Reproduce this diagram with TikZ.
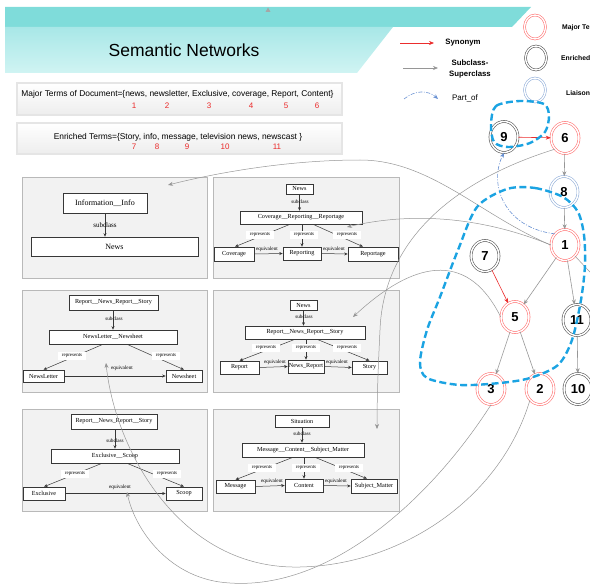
\documentclass[tikz,border=0pt]{standalone}
\usepackage{fontspec}
\setmainfont{Liberation Sans}
\newfontfamily\panelfont{Liberation Serif}
\usetikzlibrary{arrows.meta,shapes.geometric}
\definecolor{tealtop}{RGB}{127,220,218}
\definecolor{tealmid}{RGB}{168,231,231}
\definecolor{teallow}{RGB}{208,244,243}
\definecolor{nodered}{RGB}{255,105,105}
\definecolor{nodeblack}{RGB}{75,75,75}
\definecolor{nodeblue}{RGB}{140,170,215}
\definecolor{edgegray}{RGB}{150,150,150}
\definecolor{synred}{RGB}{235,45,45}
\definecolor{loopblue}{RGB}{27,163,226}
\definecolor{partblue}{RGB}{105,145,210}
\definecolor{panelfill}{RGB}{242,242,242}
\definecolor{panelline}{RGB}{185,185,185}
\definecolor{boxline}{RGB}{55,55,55}
\definecolor{numred}{RGB}{235,40,40}
\begin{document}
\begin{tikzpicture}[x=1pt,y=-1pt,
  gnode/.style={ellipse,draw,double,double distance=1.5pt,line width=0.55pt,minimum width=28pt,minimum height=31pt,inner sep=0pt,fill=white,font=\fontsize{13}{13}\selectfont\bfseries},
  rednode/.style={gnode,draw=nodered},
  blacknode/.style={gnode,draw=nodeblack},
  bluenode/.style={gnode,draw=nodeblue},
  legcirc/.style={ellipse,draw,double,double distance=1.4pt,line width=0.55pt,minimum width=21pt,minimum height=24pt,inner sep=0pt},
  arrowtip/.style={-{Stealth[length=5pt,width=4pt]}},
  gedge/.style={draw=edgegray,line width=0.6pt,arrowtip},
  redge/.style={draw=synred,line width=0.6pt,arrowtip},
  longc/.style={draw=edgegray,line width=0.5pt,arrowtip},
  partof/.style={draw=partblue,line width=0.6pt,dash pattern=on 4pt off 1.5pt on 1pt off 1.5pt,arrowtip},
  loopd/.style={draw=loopblue,line width=2.4pt,dash pattern=on 7pt off 3.5pt},
  panel/.style={draw=panelline,fill=panelfill,line width=1pt,anchor=north west,inner sep=0pt},
  ibox/.style={draw=boxline,fill=white,line width=0.6pt,inner sep=0pt,font=\panelfont\fontsize{6.2}{6.2}\selectfont},
  bigbox/.style={ibox,font=\panelfont\fontsize{8}{8}\selectfont},
  lbl/.style={inner sep=0.5pt,font=\panelfont\fontsize{5.2}{5.2}\selectfont},
  biglbl/.style={lbl,font=\panelfont\fontsize{7}{7}\selectfont},
  replbl/.style={fill=white,inner xsep=4pt,inner ysep=1.8pt,font=\panelfont\fontsize{5}{5}\selectfont},
  parr/.style={draw=boxline,line width=0.5pt,-{Stealth[length=3.5pt,width=3pt]}},
  tbox/.style={draw=gray!75,double=gray!20,double distance=1.2pt,line width=0.5pt,top color=white,bottom color=gray!14,inner sep=0pt},
  termtxt/.style={font=\fontsize{8.4}{9}\selectfont,inner sep=0pt},
  numtxt/.style={text=numred,font=\fontsize{8}{8}\selectfont,inner sep=0pt},
  legtxt/.style={font=\fontsize{7.8}{11}\selectfont\bfseries,align=center,inner sep=0pt},
  legsmall/.style={anchor=west,font=\fontsize{6.8}{7}\selectfont\bfseries,inner sep=0pt},
]
\useasboundingbox (0,0) rectangle (590,586);
\clip (0,0) rectangle (590,586);
% ---------- header ----------
\fill[tealtop] (5,7) -- (531,7) -- (512,27) -- (5,27) -- cycle;
\shade[top color=tealmid,bottom color=teallow] (5,27) -- (393,27) -- (357,73) -- (5,73) -- cycle;
\fill[gray!70] (265.5,12) -- (270.5,12) -- (268,7.5) -- cycle;
\node[font=\fontsize{17.5}{20}\selectfont] (title) at (184,50) {Semantic Networks};
% ---------- term boxes ----------
\node[tbox,minimum width=325pt,minimum height=32pt] (majorbox) at (179.5,99) {};
\node[termtxt] (majortxt) at (177.5,94) {Major Terms of Document=\{news, newsletter, Exclusive, coverage, Report, Content\}};
\node[numtxt] (m1) at (134,106) {1};
\node[numtxt] (m2) at (167,106) {2};
\node[numtxt] (m3) at (209,106) {3};
\node[numtxt] (m4) at (251,106) {4};
\node[numtxt] (m5) at (286,106) {5};
\node[numtxt] (m6) at (317,106) {6};
\node[tbox,minimum width=325pt,minimum height=31pt] (enrbox) at (179.5,138.5) {};
\node[termtxt] (enrtxt) at (178,137) {Enriched Terms=\{Story, info, message, television news, newscast \}};
\node[numtxt] (e7) at (134,147) {7};
\node[numtxt] (e8) at (157,147) {8};
\node[numtxt] (e9) at (187,147) {9};
\node[numtxt] (e10) at (225,147) {10};
\node[numtxt] (e11) at (277,147) {11};
% ---------- legend ----------
\coordinate (syn1) at (400,43); \coordinate (syn2) at (434,43);
\draw[redge] (syn1) -- (syn2);
\node[legtxt] (synl) at (463,43) {Synonym};
\coordinate (sub1) at (403,68); \coordinate (sub2) at (438,68);
\draw[gedge] (sub1) -- (sub2);
\node[legtxt] (subl) at (470,69) {Subclass-\\Superclass};
\coordinate (po1) at (404,99); \coordinate (po2) at (438,99);
\draw[partof] (po1) .. controls (415,90) and (428,90) .. (po2);
\node[font=\fontsize{8}{8}\selectfont,inner sep=0pt] (pol) at (465,98) {Part\_of};
\node[legcirc,draw=nodered] (lc1) at (535,27) {};
\node[legcirc,draw=nodeblack] (lc2) at (536,58) {};
\node[legcirc,draw=nodeblue] (lc3) at (535,90) {};
\node[legsmall] (lt1) at (562,28) {Major Terms};
\node[legsmall] (lt2) at (561,58) {Enriched Terms};
\node[legsmall] (lt3) at (566,93) {Liaison Terms};
% ---------- panel 1 ----------
\node[panel,minimum width=185pt,minimum height=101pt] (P1) at (22,177) {};
\node[bigbox,minimum width=84pt,minimum height=20pt] (p1a) at (105,203) {Information\_\_Info};
\node[bigbox,minimum width=167pt,minimum height=19pt] (p1b) at (114.5,246.5) {News};
\draw[parr] (p1a.south) -- (p1a.south |- p1b.north);
\node[biglbl] (p1s) at (105,225) {subclass};
\coordinate (p1in) at (168,185);
% ---------- panel 2 ----------
\node[panel,minimum width=186pt,minimum height=101pt] (P2) at (213,177) {};
\node[ibox,minimum width=27pt,minimum height=10pt] (p2a) at (299.5,189) {News};
\node[ibox,minimum width=122pt,minimum height=13pt] (p2b) at (301,217.5) {Coverage\_\_Reporting\_\_Reportage};
\node[ibox,minimum width=40pt,minimum height=14pt] (p2c) at (234,254) {Coverage};
\node[ibox,minimum width=38pt,minimum height=13pt] (p2d) at (302,253.5) {Reporting};
\node[ibox,minimum width=50pt,minimum height=14pt] (p2e) at (373,254) {Reportage};
\draw[parr] (p2a.south) -- (p2a.south |- p2b.north);
\node[lbl] (p2s) at (300,202) {subclass};
\draw[parr] ([xshift=-11pt]p2b.south) -- ([xshift=1pt]p2c.north);
\draw[parr] (p2b.south -| p2d.north) -- (p2d.north);
\draw[parr] ([xshift=12pt]p2b.south) -- ([xshift=-10pt]p2e.north);
\node[replbl] (p2r1) at (260,235) {represents};
\node[replbl] (p2r2) at (304,235) {represents};
\node[replbl] (p2r3) at (347,235) {represents};
\draw[parr] (p2c.east) -- (p2d.west);
\node[lbl] (p2q1) at (267,249) {equivalent};
\draw[parr] (p2d.east) -- (p2e.west);
\node[lbl] (p2q2) at (334,249) {equivalent};
\coordinate (p2in) at (347,227);
% ---------- panel 3 ----------
\node[panel,minimum width=185pt,minimum height=102pt] (P3) at (22,290) {};
\node[ibox,minimum width=89pt,minimum height=15pt] (p3a) at (113.5,302.5) {Report\_\_News\_Report\_\_Story};
\node[ibox,minimum width=128pt,minimum height=14pt] (p3b) at (113,337) {NewsLetter\_\_Newsheet};
\node[ibox,minimum width=41pt,minimum height=12pt] (p3c) at (43.5,376) {NewsLetter};
\node[ibox,minimum width=36pt,minimum height=12pt] (p3d) at (184,376) {Newsheet};
\draw[parr] (p3a.south -| p3b.north) -- (p3b.north);
\node[lbl] (p3s) at (114,319) {subclass};
\draw[parr] ([xshift=-10pt]p3b.south) -- (p3c.north);
\draw[parr] ([xshift=14pt]p3b.south) -- (p3d.north);
\node[replbl] (p3r1) at (72,356) {represents};
\node[replbl] (p3r2) at (166,356) {represents};
\draw[parr] (p3c.east) -- (p3d.west);
\node[lbl] (p3q1) at (122,368) {equivalent};
\coordinate (p3in) at (106,363);
% ---------- panel 4 ----------
\node[panel,minimum width=186pt,minimum height=102pt] (P4) at (213,290) {};
\node[ibox,minimum width=27pt,minimum height=10pt] (p4a) at (303.5,305) {News};
\node[ibox,minimum width=120pt,minimum height=13pt] (p4b) at (305,332.5) {Report\_\_News\_Report\_\_Story};
\node[ibox,minimum width=39pt,minimum height=13pt] (p4c) at (239.5,367.5) {Report};
\node[ibox,minimum width=36pt,minimum height=13pt] (p4d) at (306,366.5) {News\_Report};
\node[ibox,minimum width=35pt,minimum height=13pt] (p4e) at (369.5,367.5) {Story};
\draw[parr] (p4a.south) -- (p4a.south |- p4b.north);
\node[lbl] (p4s) at (304,317) {subclass};
\draw[parr] ([xshift=-10pt]p4b.south) -- ([xshift=0pt]p4c.north);
\draw[parr] (p4b.south -| p4d.north) -- (p4d.north);
\draw[parr] ([xshift=12pt]p4b.south) -- (p4e.north);
\node[replbl] (p4r1) at (266,348) {represents};
\node[replbl] (p4r2) at (306,348) {represents};
\node[replbl] (p4r3) at (347,348) {represents};
\draw[parr] (p4c.east) -- (p4d.west);
\node[lbl] (p4q1) at (275,362) {equivalent};
\draw[parr] (p4d.east) -- (p4e.west);
\node[lbl] (p4q2) at (337,362) {equivalent};
\coordinate (p4in) at (353,317);
% ---------- panel 5 ----------
\node[panel,minimum width=185pt,minimum height=102pt] (P5) at (22,409) {};
\node[ibox,minimum width=86pt,minimum height=15pt] (p5a) at (114,421.5) {Report\_\_News\_Report\_\_Story};
\node[ibox,minimum width=128pt,minimum height=14pt] (p5b) at (115,456) {Exclusive\_\_Scoop};
\node[ibox,minimum width=42pt,minimum height=13pt] (p5c) at (44,493.5) {Exclusive};
\node[ibox,minimum width=36pt,minimum height=13pt] (p5d) at (184,493.5) {Scoop};
\draw[parr] (p5a.south -| p5b.north) -- (p5b.north);
\node[lbl] (p5s) at (115,441) {subclass};
\draw[parr] ([xshift=-13pt]p5b.south) -- (p5c.north);
\draw[parr] ([xshift=12pt]p5b.south) -- (p5d.north);
\node[replbl] (p5r1) at (75,474) {represents};
\node[replbl] (p5r2) at (167,474) {represents};
\draw[parr] (p5c.east) -- (p5d.west);
\node[lbl] (p5q1) at (120,487) {equivalent};
\coordinate (p5in) at (127,492);
% ---------- panel 6 ----------
\node[panel,minimum width=186pt,minimum height=102pt] (P6) at (213,409) {};
\node[ibox,minimum width=54pt,minimum height=12pt] (p6a) at (302,421) {Situation};
\node[ibox,minimum width=122pt,minimum height=14pt] (p6b) at (303,450) {Message\_\_Content\_\_Subject\_Matter};
\node[ibox,minimum width=39pt,minimum height=13pt] (p6c) at (235.5,486.5) {Message};
\node[ibox,minimum width=38pt,minimum height=13pt] (p6d) at (304,485.5) {Content};
\node[ibox,minimum width=46pt,minimum height=14pt] (p6e) at (374,486) {Subject\_Matter};
\draw[parr] (p6a.south) -- (p6a.south |- p6b.north);
\node[lbl] (p6s) at (302,434) {subclass};
\draw[parr] ([xshift=-10pt]p6b.south) -- (p6c.north);
\draw[parr] (p6b.south -| p6d.north) -- (p6d.north);
\draw[parr] ([xshift=12pt]p6b.south) -- ([xshift=-7pt]p6e.north);
\node[replbl] (p6r1) at (262,468) {represents};
\node[replbl] (p6r2) at (306,468) {represents};
\node[replbl] (p6r3) at (349,468) {represents};
\draw[parr] (p6c.east) -- (p6d.west);
\node[lbl] (p6q1) at (272,481) {equivalent};
\draw[parr] (p6d.east) -- (p6e.west);
\node[lbl] (p6q2) at (336,481) {equivalent};
\coordinate (p6in) at (377,429);
% ---------- graph nodes ----------
\node[blacknode] (n9) at (504,137) {9};
\node[rednode] (n6) at (565,138) {6};
\node[bluenode] (n8) at (564,192) {8};
\node[rednode] (n1) at (565,245) {1};
\node[blacknode] (n7) at (485,256) {7};
\node[rednode] (n5) at (515,317) {5};
\node[blacknode] (n11) at (577,320) {11};
\node[rednode] (n3) at (491,389) {3};
\node[rednode] (n2) at (540,389) {2};
\node[blacknode] (n10) at (578,389) {10};
% ---------- graph edges ----------
\draw[redge] (n9) -- (n6);
\draw[gedge] (n6) -- (n8);
\draw[gedge] (n8) -- (n1);
\draw[gedge] (n1) -- (n5);
\draw[gedge] (n1) -- (n11);
\draw[redge] (n7) -- (n5);
\draw[gedge] (n5) -- (n3);
\draw[gedge] (n5) -- (n2);
\draw[gedge] (n11) -- (n10);
\draw[partof] (n1.north west) .. controls (505,228) and (488,185) .. (n9.south);
\coordinate (offr) at (602,285);
\draw[draw=edgegray,line width=0.5pt] (n1.south east) -- (offr);
% ---------- long connectors to panels ----------
\draw[longc] (n1.west) .. controls (480,215) and (430,160) .. (360,160) .. controls (290,160) and (220,172) .. (p1in);
\draw[longc] (n1.west) .. controls (490,220) and (420,210) .. (p2in);
\draw[longc] (n6.south west) .. controls (440,185) and (383,250) .. (380,330) .. controls (378,370) and (377,400) .. (p6in);
\draw[longc] (n5.west) .. controls (470,255) and (420,255) .. (p4in);
\draw[longc] (n2.south west) .. controls (500,500) and (400,565) .. (300,567) .. controls (180,570) and (115,450) .. (p3in);
\draw[longc] (n3.south) .. controls (430,500) and (330,590) .. (230,583) .. controls (170,580) and (135,530) .. (p5in);
% ---------- dashed groupings ----------
\draw[loopd] plot[smooth cycle] coordinates {(491,124) (496,106) (520,101) (544,104) (549,116) (545,132) (530,143) (508,147) (494,142)};
\draw[loopd] plot[smooth cycle] coordinates {(507,189) (535,188) (563,197) (578,212) (584,235) (585,265) (581,300) (572,340) (558,365) (530,378) (500,383) (460,385) (427,378) (420,362) (427,330) (440,297) (458,250) (477,207)};
\end{tikzpicture}
\end{document}
